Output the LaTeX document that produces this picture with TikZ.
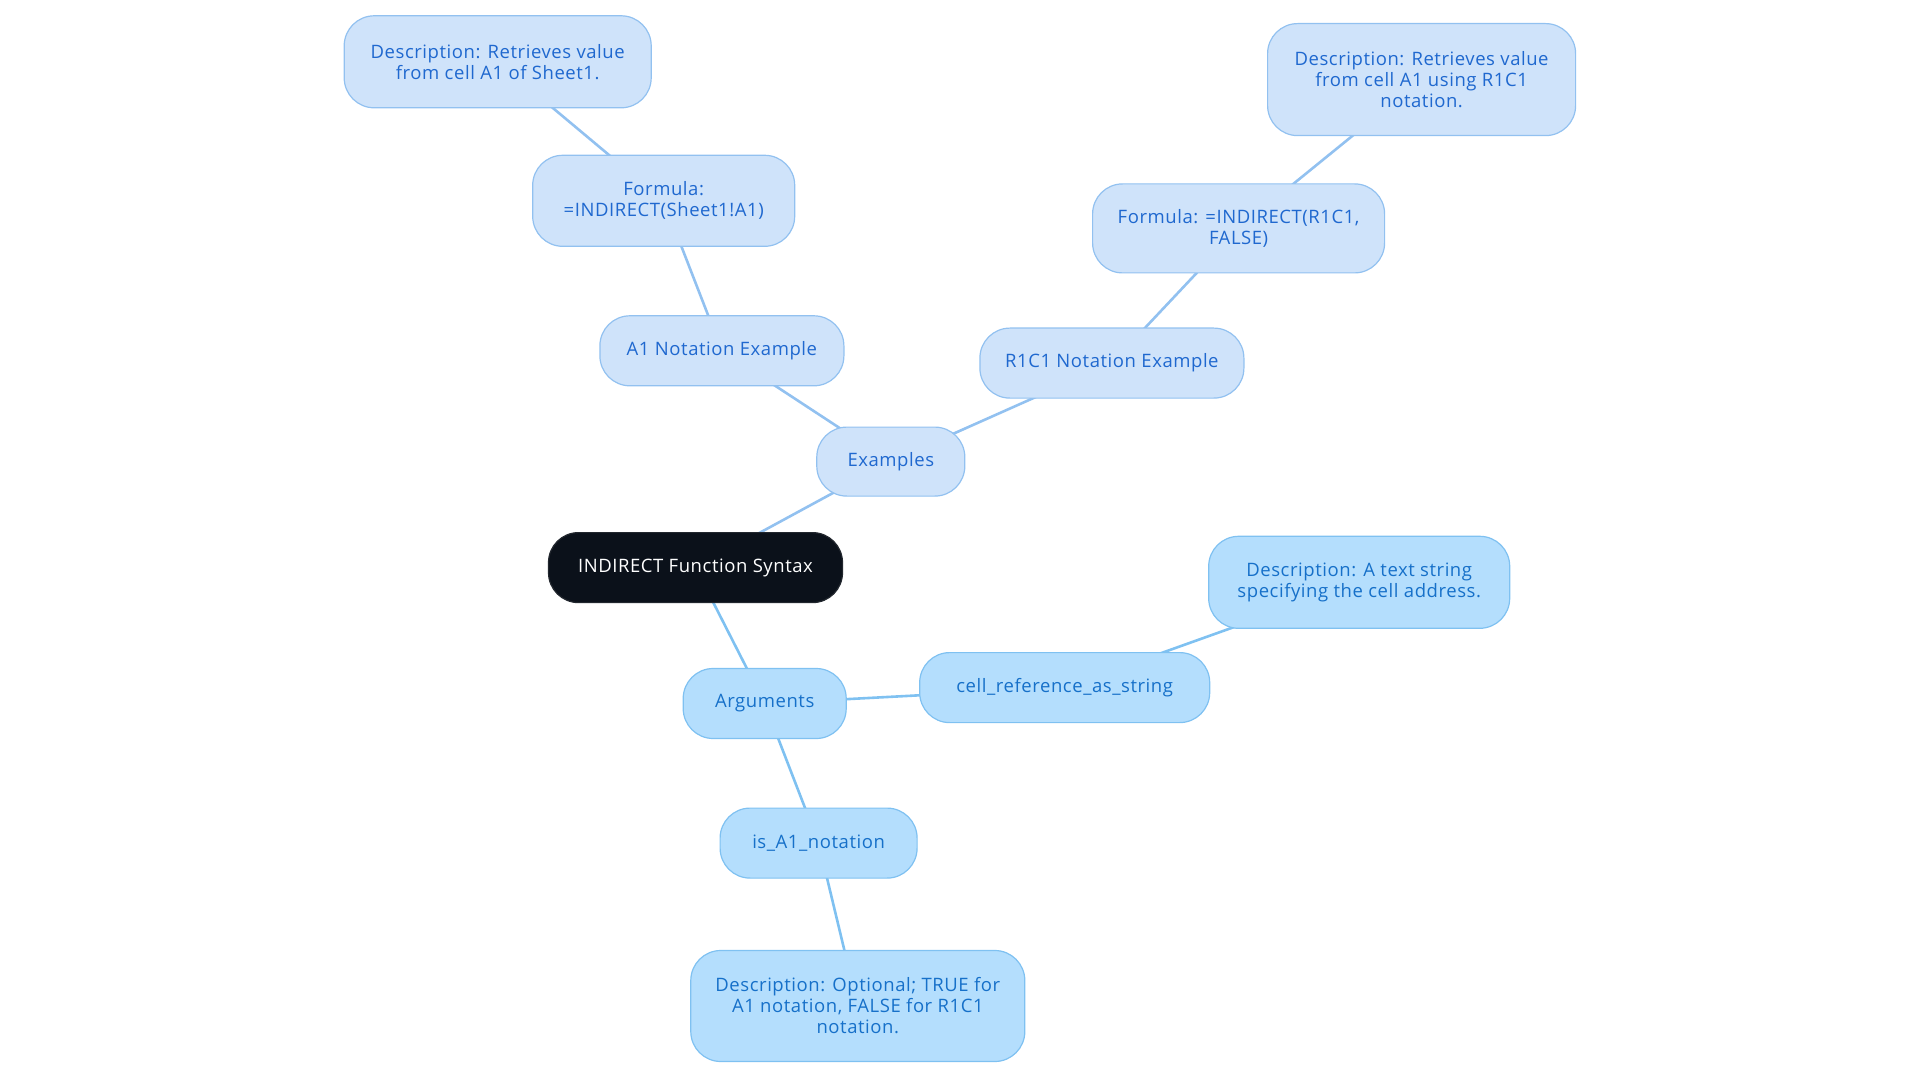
\documentclass[tikz,border=0pt]{standalone}
\usepackage{fontspec}
\setmainfont{Open Sans}[LetterSpace=3]
\usetikzlibrary{backgrounds}
\definecolor{rootfill}{HTML}{0B111A}
\definecolor{exfill}{HTML}{CFE3FA}
\definecolor{exline}{HTML}{92C1F0}
\definecolor{extext}{HTML}{1F68CF}
\definecolor{argfill}{HTML}{B4DEFD}
\definecolor{argline}{HTML}{7FC1F1}
\definecolor{argtext}{HTML}{1670C9}
\tikzset{
  mapnode/.style={draw, line width=1.2pt, rounded corners=30pt, align=center,
    inner sep=0pt, font=\fontsize{18.5pt}{21pt}\selectfont},
  rootnode/.style={mapnode, fill=rootfill, draw=rootfill!80!gray, text=white},
  exnode/.style={mapnode, fill=exfill, draw=exline, text=extext},
  argnode/.style={mapnode, fill=argfill, draw=argline, text=argtext},
  exedge/.style={draw=exline, line width=2.6pt},
  argedge/.style={draw=argline, line width=2.6pt}
}
\begin{document}
\begin{tikzpicture}[x=1pt,y=-1pt]
  \useasboundingbox (0,0) rectangle (1920,1083);
  %Noeuds de la carte
  \node[rootnode, minimum width=294pt, minimum height=70pt] (root) at (695.5,567.6) {INDIRECT Function Syntax};
  \node[exnode, minimum width=148pt, minimum height=69pt] (ex) at (890.8,461.6) {Examples};
  \node[exnode, minimum width=244pt, minimum height=70pt] (a1) at (721.9,350.8) {A1 Notation Example};
  \node[exnode, minimum width=262pt, minimum height=91pt] (a1f) at (663.7,200.8) {Formula:\\=INDIRECT(Sheet1!A1)};
  \node[exnode, minimum width=307pt, minimum height=92pt] (a1d) at (497.7,61.8) {Description: Retrieves value\\from cell A1 of Sheet1.};
  \node[exnode, minimum width=264pt, minimum height=70pt] (rc) at (1111.9,363.1) {R1C1 Notation Example};
  \node[exnode, minimum width=292pt, minimum height=89pt] (rcf) at (1238.6,228.4) {Formula: =INDIRECT(R1C1,\\FALSE)};
  \node[exnode, minimum width=308pt, minimum height=112pt] (rcd) at (1421.6,79.6) {Description: Retrieves value\\from cell A1 using R1C1\\notation.};
  \node[argnode, minimum width=163pt, minimum height=70pt] (arg) at (764.7,703.5) {Arguments};
  \node[argnode, minimum width=290pt, minimum height=70pt] (cell) at (1064.7,687.6) {cell\_reference\_as\_string};
  \node[argnode, minimum width=301pt, minimum height=92pt] (celld) at (1359.2,582.3) {Description: A text string\\specifying the cell address.};
  \node[argnode, minimum width=197pt, minimum height=70pt] (isa) at (818.6,843.1) {is\_A1\_notation};
  \node[argnode, minimum width=334pt, minimum height=111pt] (isad) at (857.8,1006) {Description: Optional; TRUE for\\A1 notation, FALSE for R1C1\\notation.};
  %Aretes
  \begin{scope}[on background layer]
    \draw[exedge] (root.center) -- (ex.center);
    \draw[exedge] (ex.center) -- (a1.center);
    \draw[exedge] (a1.center) -- (a1f.center);
    \draw[exedge] (a1f.center) -- (a1d.center);
    \draw[exedge] (ex.center) -- (rc.center);
    \draw[exedge] (rc.center) -- (rcf.center);
    \draw[exedge] (rcf.center) -- (rcd.center);
    \draw[argedge] (root.center) -- (arg.center);
    \draw[argedge] (arg.center) -- (cell.center);
    \draw[argedge] (cell.center) -- (celld.center);
    \draw[argedge] (arg.center) -- (isa.center);
    \draw[argedge] (isa.center) -- (isad.center);
  \end{scope}
\end{tikzpicture}
\end{document}
